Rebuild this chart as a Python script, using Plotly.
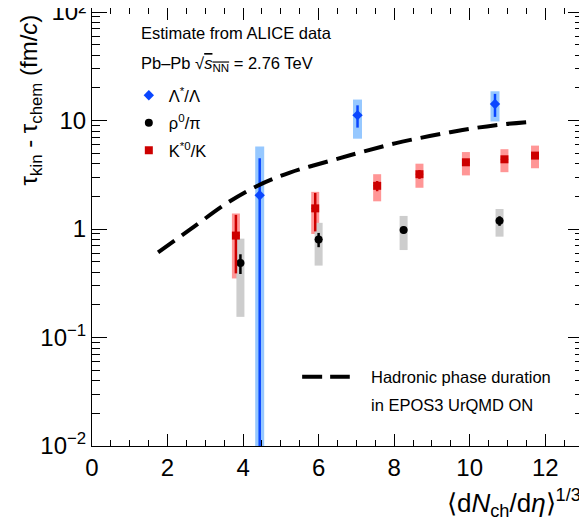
import plotly.graph_objects as go

# ---- data ----
# Lambda*/Lambda
lam_x = [4.44, 7.03, 10.67]
lam_y = [2.05, 11.2, 14.2]
lam_stat = [2.43, 2.6, 3.4]
lam_sys = [3.7, 4.4, 4.4]

# rho0/pi
rho_x = [3.93, 6.0, 8.25, 10.79]
rho_y = [0.485, 0.80, 0.98, 1.19]
rho_stat = [0.10, 0.12, 0.07, 0.12]
rho_sys = [0.33, 0.34, 0.34, 0.34]

# K*0/K
kst_x = [3.81, 5.91, 7.55, 8.67, 9.9, 10.92, 11.73]
kst_y = [0.87, 1.55, 2.50, 3.2, 4.12, 4.39, 4.75]
kst_stat = [0.48, 0.6, 0.27, 0.3, 0.3, 0.3, 0.3]
kst_sys = [0.52, 0.65, 0.7, 0.8, 1.0, 1.05, 1.12]

# Hadronic phase duration, EPOS3 UrQMD ON
epos_x = [1.75, 2.6, 3.56, 4.36, 5.24, 6.38, 7.17, 8.05, 8.94, 9.81, 10.69, 11.66]
epos_y = [0.61, 0.99, 1.72, 2.48, 3.31, 4.32, 5.15, 6.19, 7.19, 8.17, 9.06, 9.77]

# y tick labels
y_tickvals = [0.01, 0.1, 1, 10, 100]
y_ticktext = ["10<sup>−2</sup>", "10<sup>−1</sup>", "1", "10", "10²"]

FONT = "Liberation Sans, Arial, Helvetica, sans-serif"

BLUE = "rgb(10,70,255)"
BLUE_SYS = "rgb(150,200,255)"
RED = "rgb(205,0,0)"
RED_SYS = "rgb(255,150,150)"
BLK = "black"
BLK_SYS = "rgb(205,205,205)"

fig = go.Figure()


def sys_trace(x, y, s, col, w):
    return go.Scatter(
        x=x, y=y, mode="markers",
        marker=dict(size=1, color="rgba(0,0,0,0)"),
        error_y=dict(type="data", array=s, visible=True, color=col,
                     thickness=w, width=0),
        showlegend=False, hoverinfo="skip",
    )


fig.add_trace(sys_trace(lam_x, lam_y, lam_sys, BLUE_SYS, 9))
fig.add_trace(sys_trace(kst_x, kst_y, kst_sys, RED_SYS, 8))
fig.add_trace(sys_trace(rho_x, rho_y, rho_sys, BLK_SYS, 8))


def stat_trace(x, y, s, col, sym, size, name, grp, th):
    return go.Scatter(
        x=x, y=y, mode="markers", name=name, legendgroup=grp,
        marker=dict(symbol=sym, size=size, color=col),
        error_y=dict(type="data", array=s, visible=True, color=col,
                     thickness=th, width=0),
        error_x=dict(type="constant", value=0.1, visible=True, color=col,
                     thickness=1, width=0),
        showlegend=True,
    )


fig.add_trace(stat_trace(lam_x, lam_y, lam_stat, BLUE, "diamond", 8,
                         "Λ<sup>*</sup>/Λ", "a", 2.5))
fig.add_trace(stat_trace(rho_x, rho_y, rho_stat, BLK, "circle", 8,
                         "ρ<sup>0</sup>/π", "b", 2.5))
fig.add_trace(stat_trace(kst_x, kst_y, kst_stat, RED, "square", 8,
                         "K<sup>*0</sup>/K", "c", 2.5))

fig.add_trace(go.Scatter(
    x=epos_x, y=epos_y, mode="lines", line_shape="spline",
    line=dict(color="black", width=4, dash="20px,9px"),
    showlegend=False, hoverinfo="skip",
))

axis_common = dict(
    showgrid=False, zeroline=False, showline=True, linecolor="black",
    linewidth=1, mirror="allticks", ticks="inside", tickcolor="black",
    tickwidth=1, tickfont=dict(family=FONT, size=24, color="black"),
    ticklabeloverflow="allow", automargin=False,
)

fig.update_xaxes(
    range=[0, 13], tick0=0, dtick=2, ticklen=12,
    minor=dict(ticks="inside", dtick=0.5, ticklen=6, tickcolor="black",
               showgrid=False),
    **axis_common,
)
fig.update_yaxes(
    type="log", range=[-2, 2.037], tickmode="array",
    tickvals=y_tickvals, ticktext=y_ticktext, ticklen=15,
    minor=dict(ticks="inside", ticklen=8, tickcolor="black", showgrid=False,
               tickmode="linear", tick0=0, dtick="D1"),
    **axis_common,
)

ann_font = dict(family=FONT, size=16.5, color="black")
annotations = [
    dict(text="Estimate from ALICE data", x=0.0957, y=0.943, xref="paper",
         yref="paper", xanchor="left", yanchor="middle", showarrow=False,
         font=ann_font),
    dict(text="Pb–Pb √<span style='text-decoration:overline'><i>s</i><sub>NN</sub></span> = 2.76 TeV",
         x=0.0957, y=0.872, xref="paper", yref="paper", xanchor="left",
         yanchor="middle", showarrow=False, font=ann_font),
    dict(text="Hadronic phase duration", x=0.564, y=0.158, xref="paper",
         yref="paper", xanchor="left", yanchor="middle", showarrow=False,
         font=ann_font),
    dict(text="in EPOS3 UrQMD ON", x=0.564, y=0.094, xref="paper",
         yref="paper", xanchor="left", yanchor="middle", showarrow=False,
         font=ann_font),
    dict(text="τ<sub>kin</sub> - τ<sub>chem</sub> (fm/<i>c</i>)",
         x=-0.126, y=0.989, xref="paper", yref="paper", xanchor="center",
         yanchor="top", textangle=-90, showarrow=False,
         font=dict(family=FONT, size=24, color="black")),
    dict(text="⟨d<i>N</i><sub>ch</sub>/d<i>η</i>⟩<sup>1/3</sup>",
         x=1.0, y=-0.130, xref="paper", yref="paper", xanchor="right",
         yanchor="middle", showarrow=False,
         font=dict(family=FONT, size=26, color="black")),
]

shapes = [
    dict(type="line", xref="paper", yref="paper", x0=0.428, x1=0.525,
         y0=0.158, y1=0.158, line=dict(color="black", width=4,
                                        dash="20px,8px")),
]

# The page body has an 8px margin, so the figure is 8px smaller
# and margins are reduced to keep the plot frame in place.
fig.update_layout(
    width=579, height=511,
    margin=dict(l=84, r=4, t=0, b=73, autoexpand=False),
    paper_bgcolor="white", plot_bgcolor="white",
    font=dict(family=FONT, color="black"),
    annotations=annotations, shapes=shapes,
    legend=dict(x=0.075, y=0.840, xanchor="left", yanchor="top",
                bgcolor="rgba(0,0,0,0)", borderwidth=0,
                font=dict(family=FONT, size=16.5, color="black"),
                tracegroupgap=3, itemsizing="trace"),
)

fig.write_html("out.html")
